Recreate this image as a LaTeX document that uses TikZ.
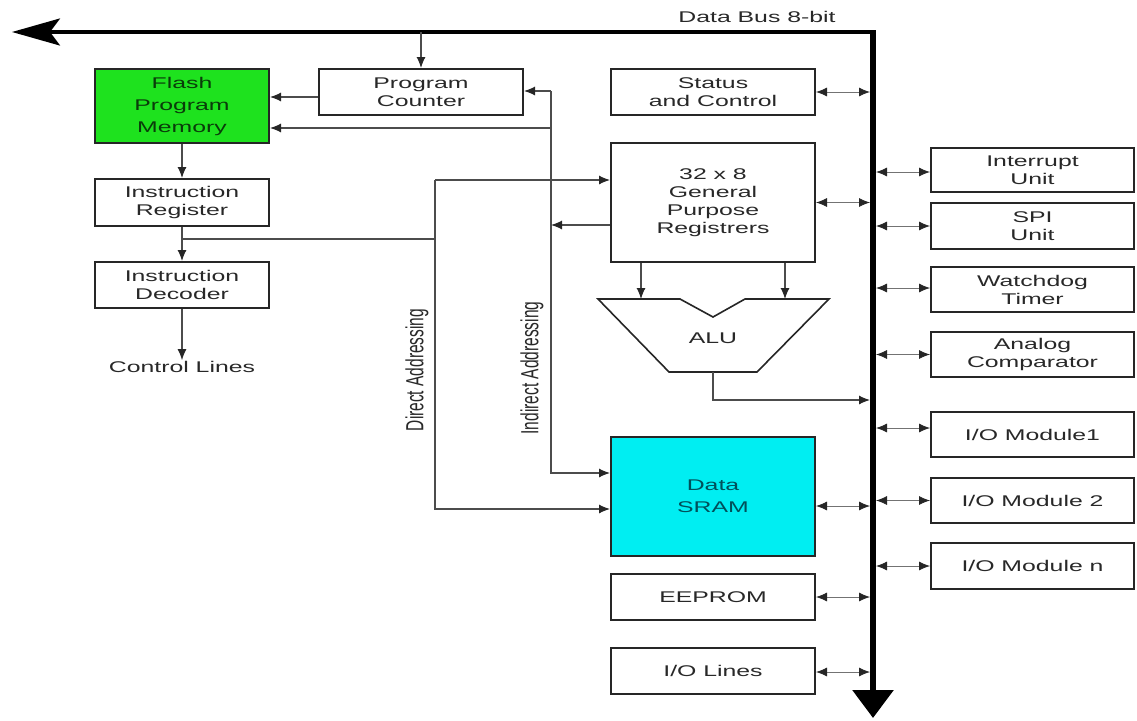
\documentclass[tikz,border=0pt]{standalone}
\usepackage{fontspec}
\usepackage{graphicx}
\setmainfont{Liberation Sans}[FakeStretch=1.6]
\newfontfamily\rotfont{Liberation Sans}
\usetikzlibrary{arrows.meta}
\definecolor{flashgreen}{RGB}{30,226,30}
\definecolor{sramcyan}{RGB}{0,238,242}
\definecolor{txt}{RGB}{40,40,40}
\definecolor{sramtxt}{RGB}{0,80,90}
\definecolor{flashtxt}{RGB}{10,60,10}
\begin{document}
\begin{tikzpicture}[x=1pt,y=-1pt,
  box/.style={draw=black!85, line width=2pt, rectangle, inner sep=0pt, align=center,
    text=txt, font=\fontsize{15.5}{18}\selectfont, fill=white},
  lbl/.style={inner sep=1pt, text=txt, font=\fontsize{15.5}{18}\selectfont},
  tip/.tip={Latex[length=11pt,width=9pt,color=black!85]},
  conn/.style={draw=black!70, line width=1.1pt, -tip},
  line/.style={draw=black!70, line width=1.1pt},
  bidir/.style={draw=black!55, line width=0.8pt, tip-tip},
  lbox/.style={box, minimum width=174pt},
  mbox/.style={box, minimum width=204pt},
  rbox/.style={box, minimum width=203pt}
]
\useasboundingbox (0,0) rectangle (1137,720);

% data bus
\coordinate (busTL) at (12,32);
\coordinate (busC) at (873,32);
\coordinate (busB) at (873,718);
\coordinate (busLe) at (870,0);
\coordinate (busRe) at (876,0);
\draw[line width=3.7pt, {Stealth[length=48pt,width=27pt,inset=10pt]}-] (busTL) -- ([xshift=3pt]busC);
\draw[line width=6pt, -{Triangle[length=28pt,width=40pt]}] ([yshift=1.85pt]busC) -- (busB);
\node[lbl] (buslbl) at (757,17) {Data Bus 8-bit};

% left column
\node[lbox, fill=flashgreen, text=flashtxt, minimum height=74pt,
  font=\fontsize{15.5}{22}\selectfont] (flash) at (182,106) {Flash\\Program\\Memory};
\node[mbox, minimum height=46pt] (pc) at (421,92) {Program\\Counter};
\node[lbox, minimum height=47pt] (ir) at (182,202.5) {Instruction\\Register};
\node[lbox, minimum height=46pt] (id) at (182,285) {Instruction\\Decoder};
\node[lbl] (ctrl) at (182,367) {Control Lines};

% middle column
\node[mbox, minimum height=46pt] (status) at (713,92) {Status\\and Control};
\node[mbox, minimum height=119pt] (gpr) at (713,202.5) {32 x 8\\General\\Purpose\\Registrers};
\node[mbox, minimum height=119pt, fill=sramcyan, text=sramtxt,
  font=\fontsize{15.5}{22}\selectfont] (sram) at (713,496.5) {Data\\SRAM};
\node[mbox, minimum height=46pt] (eeprom) at (713,597) {EEPROM};
\node[mbox, minimum height=46pt] (iolines) at (713,671) {I/O Lines};

% ALU
\draw[line width=1.6pt, draw=black!85, fill=white]
  (598,299) -- (680,299) -- (713,317) -- (745,299) -- (829,299) -- (757,372) -- (669,372) -- cycle;
\node[lbl] (alu) at (713,338) {ALU};
\coordinate (aluL) at (641,299);
\coordinate (aluR) at (785,299);
\coordinate (aluO) at (713,372);
\coordinate (aluT) at (713,400);

% right column
\node[rbox, minimum height=44pt] (int) at (1032.5,170) {Interrupt\\Unit};
\node[rbox, minimum height=46pt] (spi) at (1032.5,226) {SPI\\Unit};
\node[rbox, minimum height=45pt] (wdt) at (1032.5,289.5) {Watchdog\\Timer};
\node[rbox, minimum height=45pt] (ana) at (1032.5,354.5) {Analog\\Comparator};
\node[rbox, minimum height=45pt] (io1) at (1032.5,434.5) {I/O Module1};
\node[rbox, minimum height=45pt] (io2) at (1032.5,500.5) {I/O Module 2};
\node[rbox, minimum height=46pt] (ion) at (1032.5,566) {I/O Module n};

% addressing lines
\coordinate (indT) at (551,91);
\coordinate (indF) at (551,128);
\coordinate (indG) at (551,225);
\coordinate (indB) at (551,473);
\coordinate (dirT) at (435,180);
\coordinate (dirB) at (435,509);
\coordinate (irB) at (182,239);

\node[rotate=90, inner sep=0pt, text=txt] (dirlbl) at (417,370)
  {\rotfont\fontsize{15.5}{18}\selectfont\scalebox{1}[1.6]{Direct Addressing}};
\node[rotate=90, inner sep=0pt, text=txt] (indlbl) at (532,368)
  {\rotfont\fontsize{15.5}{18}\selectfont\scalebox{1}[1.6]{Indirect Addressing}};

% connectors
\draw[conn] (pc.north |- busC) -- (pc.north);
\draw[conn] ([yshift=-5pt]pc.west) -- ([yshift=-5pt]pc.west -| flash.east);
\draw[conn] (flash.south) -- (ir.north);
\draw[conn] (ir.south) -- (id.north);
\draw[conn] (id.south) -- (ctrl.north);

\draw[conn] (indT) -- (indT -| pc.east);
\draw[conn] (indF) -- (indF -| flash.east);
\draw[conn] (indT) -- (indB) -- (indB -| sram.west);
\draw[conn] (indG -| gpr.west) -- (indG);

\draw[line] (irB) -- (irB -| dirT);
\draw[conn] (dirT) -- (dirT -| gpr.west);
\draw[conn] (dirT) -- (dirB) -- (dirB -| sram.west);

\draw[conn] (aluL |- gpr.south) -- (aluL);
\draw[conn] (aluR |- gpr.south) -- (aluR);
\draw[conn] (aluO) -- (aluT) -- (aluT -| busLe);

% bus taps (left side)
\draw[bidir] (status.east) -- (status.east -| busLe);
\draw[bidir] (gpr.east) -- (gpr.east -| busLe);
\draw[bidir] ([yshift=-9.5pt]sram.east) -- ([yshift=-9.5pt]sram.east -| busLe);
\draw[bidir] (eeprom.east) -- (eeprom.east -| busLe);
\draw[bidir] ([yshift=-1pt]iolines.east) -- ([yshift=-1pt]iolines.east -| busLe);

% bus taps (right side)
\draw[bidir] ([yshift=-2pt]int.west -| busRe) -- ([yshift=-2pt]int.west);
\draw[bidir] (spi.west -| busRe) -- (spi.west);
\draw[bidir] ([yshift=1.5pt]wdt.west -| busRe) -- ([yshift=1.5pt]wdt.west);
\draw[bidir] (ana.west -| busRe) -- (ana.west);
\draw[bidir] ([yshift=6.5pt]io1.west -| busRe) -- ([yshift=6.5pt]io1.west);
\draw[bidir] (io2.west -| busRe) -- (io2.west);
\draw[bidir] (ion.west -| busRe) -- (ion.west);
\end{tikzpicture}
\end{document}
